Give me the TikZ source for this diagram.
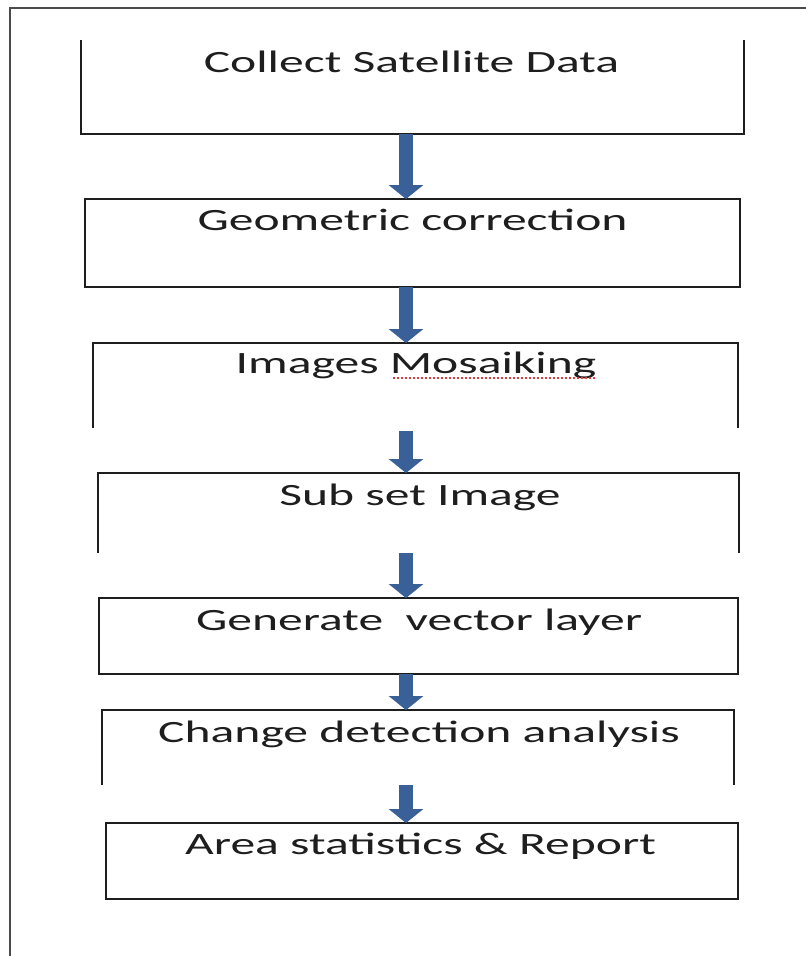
\documentclass[tikz,border=0pt]{standalone}
\usepackage{fontspec}
\setmainfont[FakeStretch=1.6]{Carlito}
\usetikzlibrary{arrows.meta}
\definecolor{arrowblue}{RGB}{58,96,152}
\definecolor{inkgray}{RGB}{30,30,30}
\definecolor{squiggle}{RGB}{220,60,60}
\begin{document}
\begin{tikzpicture}[x=1pt,y=-1pt,
  boxarea/.style={rectangle,inner sep=0pt,outer sep=0pt},
  sides/.style={line width=1.6pt,draw=inkgray},
  lbl/.style={anchor=base,inner sep=0pt,text=inkgray,font=\fontsize{31}{37}\selectfont},
  flowarrow/.style={arrowblue,line width=14pt,-{Triangle[width=34pt,length=14pt]}}]
\useasboundingbox (0,0) rectangle (806,956);
% outer frame (left and top edges visible)
\coordinate (fa) at (10,956);
\coordinate (fb) at (10,8);
\coordinate (fc) at (806,8);
\draw[line width=2pt,draw=inkgray!80] (fa) -- (fb) -- (fc);
% box areas
\node[boxarea,minimum width=663pt,minimum height=94pt] (b1) at (412.5,87) {};
\node[boxarea,minimum width=655pt,minimum height=88pt] (b2) at (412.5,243) {};
\node[boxarea,minimum width=645pt,minimum height=85pt] (b3) at (415.5,385.5) {};
\node[boxarea,minimum width=641pt,minimum height=80pt] (b4) at (418.5,513) {};
\node[boxarea,minimum width=639pt,minimum height=76pt] (b5) at (418.5,636) {};
\node[boxarea,minimum width=632pt,minimum height=75pt] (b6) at (418,747.5) {};
\node[boxarea,minimum width=632pt,minimum height=76pt] (b7) at (422,861) {};
% visible sides
\draw[sides] (b1.north west) -- (b1.south west) -- (b1.south east) -- (b1.north east);
\draw[sides] (b2.north west) rectangle (b2.south east);
\draw[sides] (b3.south west) -- (b3.north west) -- (b3.north east) -- (b3.south east);
\draw[sides] (b4.south west) -- (b4.north west) -- (b4.north east) -- (b4.south east);
\draw[sides] (b5.north west) rectangle (b5.south east);
\draw[sides] (b6.south west) -- (b6.north west) -- (b6.north east) -- (b6.south east);
\draw[sides] (b7.north west) rectangle (b7.south east);
% labels
\node[lbl] (t1) at (411.5,72) {Collect Satellite Data};
\node[lbl] (t2) at (412.5,230) {Geometric correction};
\node[lbl] (t3) at (416,373) {Images Mosaiking};
\node[lbl] (t4) at (420,505) {Sub set Image};
\node[lbl] (t5) at (419,630) {Generate\ \ vector layer};
\node[lbl] (t6) at (419,742) {Change detection analysis};
\node[lbl] (t7) at (420.5,854) {Area statistics \& Report};
% spell-check underline
\coordinate (u1) at (393,378);
\coordinate (u2) at (596,378);
\draw[squiggle,line width=1.3pt,dash pattern=on 2pt off 2pt] (u1) -- (u2);
% arrows
\coordinate (ax) at (406,0);
\draw[flowarrow] (b1.south -| ax) -- (b2.north -| ax);
\draw[flowarrow] (b2.south -| ax) -- (b3.north -| ax);
\draw[flowarrow] ([yshift=-3pt]b3.south -| ax) -- (b4.north -| ax);
\draw[flowarrow] (b4.south -| ax) -- (b5.north -| ax);
\draw[flowarrow] (b5.south -| ax) -- (b6.north -| ax);
\draw[flowarrow] (b6.south -| ax) -- (b7.north -| ax);
\end{tikzpicture}
\end{document}
